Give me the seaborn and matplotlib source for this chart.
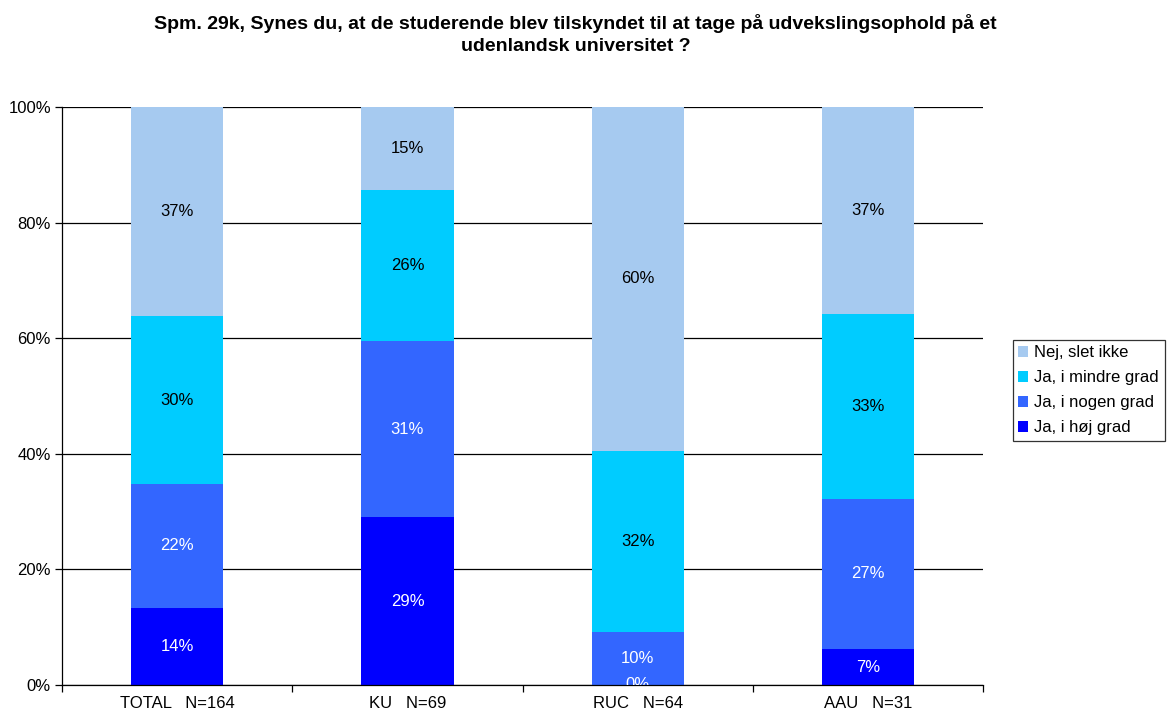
import numpy as np
import pandas as pd
import seaborn as sns
import matplotlib.pyplot as plt
from matplotlib.patches import Patch

# data (percent of respondents)
groups = ['TOTAL   N=164', 'KU   N=69', 'RUC   N=64', 'AAU   N=31']
answers = ['Ja, i høj grad', 'Ja, i nogen grad', 'Ja, i mindre grad', 'Nej, slet ikke']
hoej = [13.4, 29.0, 0.0, 6.2]
nogen = [21.3, 30.5, 9.2, 26.0]
mindre = [29.2, 26.1, 31.3, 32.0]
nej = [36.1, 14.4, 59.5, 35.8]
# labels as printed in the chart
lbl_hoej = ['14%', '29%', '0%', '7%']
lbl_nogen = ['22%', '31%', '10%', '27%']
lbl_mindre = ['30%', '26%', '32%', '33%']
lbl_nej = ['37%', '15%', '60%', '37%']

colors = ['#0000FF', '#3366FF', '#00CCFF', '#A6CAF0']
text_colors = ['white', 'white', 'black', 'black']

sns.set_theme(style='white')
plt.rcParams['font.family'] = ['Liberation Sans', 'DejaVu Sans']
plt.rcParams['text.color'] = 'black'
plt.rcParams['xtick.color'] = 'black'
plt.rcParams['ytick.color'] = 'black'
FS = 12

series = [hoej, nogen, mindre, nej]
labels = [lbl_hoej, lbl_nogen, lbl_mindre, lbl_nej]
df = pd.DataFrame({a: np.array(s) / 100 for a, s in zip(answers, series)}, index=groups)
cum = df.cumsum(axis=1)

fig = plt.figure(figsize=(11.72, 7.18), dpi=100)
ax = fig.add_axes([0.0529, 0.046, 0.786, 0.805])

# stacked bars: draw cumulative totals from the top segment down
for i in reversed(range(len(answers))):
    sns.barplot(x=groups, y=cum[answers[i]].values, color=colors[i], width=0.4,
                saturation=1, ax=ax, zorder=2, linewidth=0)

for i in range(len(answers)):
    bottoms = cum[answers[i]].values - df[answers[i]].values
    mids = bottoms + df[answers[i]].values / 2
    for j in range(len(groups)):
        ax.text(j, mids[j], labels[i][j], ha='center', va='center', fontsize=FS,
                color=text_colors[i], zorder=3, clip_on=True)

ax.set_xlim(-0.5, 3.5)
ax.set_ylim(0, 1)
ax.set_yticks(np.arange(0, 1.01, 0.2))
ax.set_yticklabels([f'{int(round(v * 100))}%' for v in np.arange(0, 1.01, 0.2)])
ax.yaxis.grid(True, color='black', linewidth=0.9)
ax.set_axisbelow(True)
ax.tick_params(axis='x', which='major', length=0, labelsize=FS, pad=8, labelcolor='black')
ax.set_xticks(np.arange(-0.5, 3.6, 1), minor=True)
ax.tick_params(axis='x', which='minor', length=5, width=0.9, color='black', direction='out', bottom=True)
ax.tick_params(axis='y', length=5, width=0.9, color='black', direction='out', left=True,
               labelsize=FS, pad=3, labelcolor='black')
for s in ['top', 'right']:
    ax.spines[s].set_visible(False)
for s in ['left', 'bottom']:
    ax.spines[s].set_color('black')
    ax.spines[s].set_linewidth(0.9)
ax.set_xlabel('')
ax.set_ylabel('')

fig.suptitle('Spm. 29k, Synes du, at de studerende blev tilskyndet til at tage på udvekslingsophold på et\n'
             'udenlandsk universitet ?', x=0.491, y=0.981, fontsize=14, fontweight='bold',
             linespacing=1.42, color='black')

handles = [Patch(facecolor=colors[i], edgecolor='none') for i in reversed(range(len(answers)))]
leg = fig.legend(handles, list(reversed(answers)), loc='upper left', bbox_to_anchor=(0.864, 0.527),
                 fontsize=FS, frameon=True, fancybox=False, edgecolor='black', handlelength=0.6,
                 handleheight=0.6, handletextpad=0.35, labelspacing=0.6, borderpad=0.35,
                 borderaxespad=0)
leg.get_frame().set_linewidth(0.9)
for t in leg.get_texts():
    t.set_color('black')

fig.savefig('out.png', dpi=100)
